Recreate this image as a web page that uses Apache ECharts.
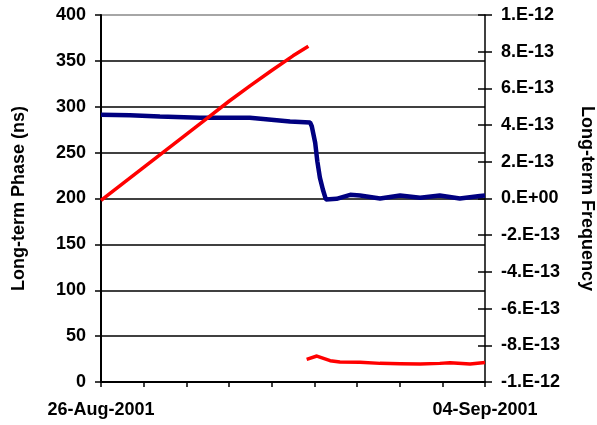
<!DOCTYPE html>
<html>
<head>
<meta charset="utf-8">
<title>Long-term Phase and Frequency</title>
<script src="https://cdn.jsdelivr.net/npm/echarts@6/dist/echarts.min.js"></script>
<style>
  html, body { margin: 0; padding: 0; background: #fff; }
  #main { width: 597px; height: 425px; }
</style>
</head>
<body>
<div id="main"></div>
<script>
// x in days since 26-Aug-2001
var dayTickLabels = ['26-Aug-2001', '', '', '', '', '', '', '', '', '04-Sep-2001'];
var phaseTickLabels = ['0', '50', '100', '150', '200', '250', '300', '350', '400'];
var freqTickLabels = ['-1.E-12', '-8.E-13', '-6.E-13', '-4.E-13', '-2.E-13', '0.E+00',
                      '2.E-13', '4.E-13', '6.E-13', '8.E-13', '1.E-12'];

// phase (ns), before the step
var phaseDays1 = [0, 0.5, 1, 1.5, 2, 2.5, 3, 3.5, 4, 4.5, 4.86];
var phaseNs1   = [198, 216, 234, 252, 270, 288, 306, 323, 339.5, 355.5, 366];
// phase (ns), after the step
var phaseDays2 = [4.82, 5.06, 5.37, 5.6, 6.07, 6.54, 7.01, 7.48, 7.94, 8.18, 8.65, 9.0];
var phaseNs2   = [24.7, 28.3, 23.2, 21.8, 21.4, 20.3, 20, 19.6, 20.3, 21, 19.6, 21.3];

// frequency in units of 1E-13
var freqDays = [0, 0.68, 1.38, 2.32, 3.49, 4.43, 4.9, 4.94, 5.02, 5.07, 5.13, 5.2, 5.27,
                5.52, 5.84, 6.07, 6.54, 7.01, 7.48, 7.94, 8.41, 8.88, 9.0];
var freqE13  = [4.56, 4.54, 4.47, 4.4, 4.4, 4.2, 4.14, 3.94, 3.04, 2.03, 1.14, 0.49, -0.05,
                -0.02, 0.2, 0.16, 0, 0.16, 0.04, 0.16, 0, 0.14, 0.16];

function pairs(xs, ys) {
  return xs.map(function (x, i) { return [x, ys[i]]; });
}

var font = '"Liberation Sans", Arial, sans-serif';
var lblStyle = { color: '#000', fontFamily: font, fontWeight: 'bold', fontSize: 18 };

var chart = echarts.init(document.getElementById('main'));
chart.setOption({
  animation: false,
  backgroundColor: '#fff',
  grid: { left: 101, right: 112, top: 15, bottom: 43, containLabel: false, outerBoundsMode: 'none' },
  xAxis: {
    type: 'value', min: 0, max: 9, interval: 1,
    axisLine: { lineStyle: { color: '#000', width: 2 } },
    axisTick: { length: 5, lineStyle: { color: '#000', width: 1.5 } },
    axisLabel: Object.assign({
      margin: 19, showMinLabel: true, showMaxLabel: true, hideOverlap: false,
      formatter: function (v) { return dayTickLabels[Math.round(v)] || ''; }
    }, lblStyle),
    splitLine: { show: false }
  },
  yAxis: [
    {
      type: 'value', min: 0, max: 400, interval: 50, position: 'left',
      name: 'Long-term Phase (ns)', nameLocation: 'middle', nameGap: 73, nameRotate: 90,
      nameTextStyle: lblStyle,
      axisLine: { show: true, lineStyle: { color: '#000', width: 2 } },
      axisTick: { show: true, length: 6, lineStyle: { color: '#000', width: 1.5 } },
      axisLabel: Object.assign({
        margin: 15,
        formatter: function (v) { return phaseTickLabels[Math.round(v / 50)]; }
      }, lblStyle),
      splitLine: { show: true, lineStyle: { width: 1.5,
        color: ['#000', '#000', '#000', '#000', '#000', '#000', '#000', '#000', '#888'] } }
    },
    {
      type: 'value', min: -10, max: 10, interval: 2, position: 'right',
      name: 'Long-term Frequency', nameLocation: 'middle', nameGap: 93, nameRotate: -90,
      nameTextStyle: lblStyle,
      axisLine: { show: true, lineStyle: { color: '#000', width: 1.5 } },
      axisTick: { show: true, length: 7, lineStyle: { color: '#000', width: 1.5 } },
      axisLabel: Object.assign({
        margin: 16,
        formatter: function (v) { return freqTickLabels[Math.round((v + 10) / 2)]; }
      }, lblStyle),
      splitLine: { show: false }
    },
    {
      // inner half of the crossing ticks on the right axis
      type: 'value', min: -10, max: 10, interval: 2, position: 'right',
      axisLine: { show: false },
      axisTick: { show: true, inside: true, length: 7, lineStyle: { color: '#000', width: 1.5 } },
      axisLabel: { show: false },
      splitLine: { show: false }
    }
  ],
  series: [
    {
      name: 'Frequency', type: 'line', yAxisIndex: 1, symbol: 'none',
      lineStyle: { color: '#000080', width: 4.5 },
      data: pairs(freqDays, freqE13)
    },
    {
      name: 'Phase', type: 'line', yAxisIndex: 0, symbol: 'none',
      lineStyle: { color: '#ff0000', width: 3.5 },
      data: pairs(phaseDays1, phaseNs1)
    },
    {
      name: 'Phase', type: 'line', yAxisIndex: 0, symbol: 'none',
      lineStyle: { color: '#ff0000', width: 3.5 },
      data: pairs(phaseDays2, phaseNs2)
    }
  ]
});
</script>
</body>
</html>
